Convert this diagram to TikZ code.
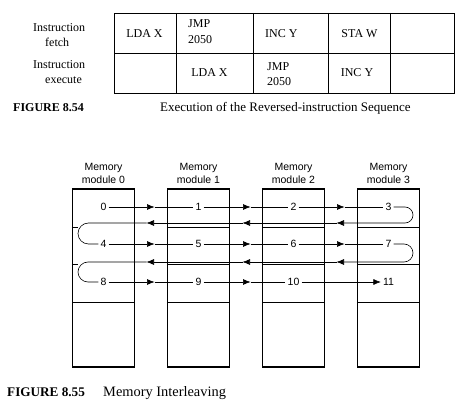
\documentclass[tikz,border=0pt]{standalone}
\usepackage{fontspec}
\setmainfont{Liberation Serif}
\setsansfont{Liberation Sans}
\usetikzlibrary{arrows.meta}
\begin{document}
\begin{tikzpicture}[x=1pt,y=-1pt,
  every node/.style={inner sep=0pt},
  tabline/.style={line width=0.9pt},
  lbl/.style={anchor=base west,font=\fontsize{12}{15}\selectfont},
  cellc/.style={anchor=base,font=\fontsize{12}{15}\selectfont},
  celll/.style={anchor=base west,font=\fontsize{12}{15}\selectfont},
  modbox/.style={draw,line width=1.3pt,minimum width=62pt,minimum height=178pt},
  divider/.style={line width=0.9pt},
  modlabel/.style={anchor=base,font=\sffamily\fontsize{10.5}{13}\selectfont},
  num/.style={font=\sffamily\fontsize{10.5}{13}\selectfont,inner sep=2pt},
  wire/.style={line width=0.6pt},
  tip/.style={-{Latex[length=7.5pt,width=6pt]}}
]
\useasboundingbox (0,0) rectangle (466,403);

% ---------- Figure 8.54 table ----------
\draw[tabline] (114,13) rectangle (454,93);
\draw[tabline] (114,53) -- (454,53);
\foreach \x in {176,253,328,390} \draw[tabline] (\x,13) -- (\x,93);

\node[lbl] (if1) at (33,32) {Instruction};
\node[lbl] (if2) at (45,47) {fetch};
\node[lbl] (ie1) at (33,69) {Instruction};
\node[lbl] (ie2) at (45,84) {execute};

\node[cellc] (c11) at (144.5,38) {LDA X};
\node[celll] (c12a) at (188,28) {JMP};
\node[celll] (c12b) at (188,43.5) {2050};
\node[celll] (c13) at (265,38) {INC Y};
\node[cellc] (c14) at (359.5,37.5) {STA W};
\node[cellc] (c22) at (209.5,77) {LDA X};
\node[celll] (c23a) at (267,70.5) {JMP};
\node[celll] (c23b) at (267,85.5) {2050};
\node[cellc] (c24) at (357,77) {INC Y};

\node[anchor=base west,font=\bfseries\fontsize{12}{14}\selectfont] (cap1) at (13,112) {FIGURE 8.54};
\node[anchor=base west,font=\fontsize{13}{15}\selectfont] (cap1t) at (160,112) {Execution of the Reversed-instruction Sequence};

% ---------- Figure 8.55 memory modules ----------
\node[modbox] (m0) at (103.5,278) {};
\node[modbox] (m1) at (198.5,278) {};
\node[modbox] (m2) at (293.5,278) {};
\node[modbox] (m3) at (388.5,278) {};

\foreach \i in {0,1,2,3} {
  \node[modlabel] (ma\i) at ([yshift=0pt]m\i.north |- 0,171) {Memory};
  \node[modlabel] (mb\i) at ([yshift=0pt]m\i.north |- 0,184) {module \i};
}

% dividers
\foreach \i in {1,2,3} {
  \foreach \y in {227,264,302} \draw[divider] (m\i.west |- 0,\y) -- (m\i.east |- 0,\y);
}
\draw[divider] (m0.west |- 0,227) -- (78,227);
\draw[divider] (m0.west |- 0,264) -- (78,264);
\draw[divider] (m0.west |- 0,302) -- (m0.east |- 0,302);

% numbers
\foreach \n/\x/\y in {0/103.5/207,1/198.5/207,2/293.5/207,3/388.5/207,
                      4/103.5/244,5/198.5/244,6/293.5/244,7/388.5/244,
                      8/103.5/282,9/198.5/282,10/293.5/282,11/388.5/282}
  \node[num] (n\n) at (\x,\y) {\n};

% arrow-tip coordinates
\foreach \r/\y in {1/207,2/244,3/282} {
  \coordinate (fa\r) at (154.5,\y);
  \coordinate (fb\r) at (250.5,\y);
  \coordinate (fc\r) at (344.5,\y);
}
\foreach \r/\y in {1/223,2/262} {
  \coordinate (ra\r) at (146.5,\y);
  \coordinate (rb\r) at (242.5,\y);
  \coordinate (rc\r) at (336.5,\y);
}
\coordinate (rr1a) at (413,207); \coordinate (rr1b) at (413,223);
\coordinate (rl1a) at (78,223);  \coordinate (rl1b) at (78,244);
\coordinate (rr2a) at (413,244); \coordinate (rr2b) at (413,262);
\coordinate (rl2a) at (78,262);  \coordinate (rl2b) at (78,282);

% forward flow
\foreach \a/\b/\r/\g in {0/1/1/fa,1/2/1/fb,2/3/1/fc,4/5/2/fa,5/6/2/fb,6/7/2/fc,8/9/3/fa,9/10/3/fb} {
  \draw[wire,tip] (n\a) -- (\g\r);
  \draw[wire] (\g\r) -- (n\b);
}
\draw[wire,tip] (n10) -- (n11);

% return flow row 1
\draw[wire,tip,rounded corners=8pt] (n3) -- (rr1a) -- (rr1b) -- (rc1);
\draw[wire,tip] (rc1) -- (rb1);
\draw[wire,tip] (rb1) -- (ra1);
\draw[wire,rounded corners=10.5pt] (ra1) -- (rl1a) -- (rl1b) -- (n4);
% return flow row 2
\draw[wire,tip,rounded corners=9pt] (n7) -- (rr2a) -- (rr2b) -- (rc2);
\draw[wire,tip] (rc2) -- (rb2);
\draw[wire,tip] (rb2) -- (ra2);
\draw[wire,rounded corners=10pt] (ra2) -- (rl2a) -- (rl2b) -- (n8);

\node[anchor=base west,font=\bfseries\fontsize{13.2}{15}\selectfont] (cap2) at (7,396.5) {FIGURE 8.55};
\node[anchor=base west,font=\fontsize{14.4}{16}\selectfont] (cap2t) at (103,396.5) {Memory Interleaving};
\end{tikzpicture}
\end{document}
